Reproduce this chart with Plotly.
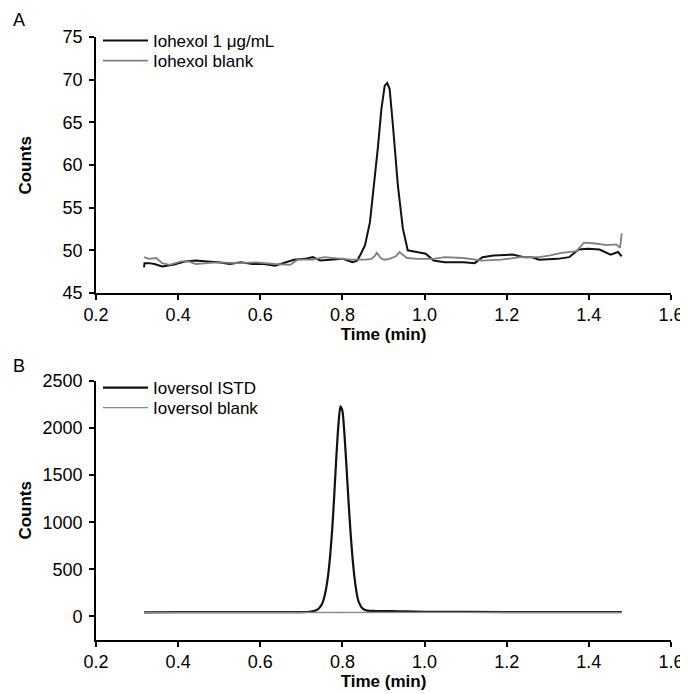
import plotly.graph_objects as go
from plotly.subplots import make_subplots

# ---- Panel A: Iohexol ----
iohexol_t = [0.317, 0.318, 0.329, 0.342, 0.361, 0.388, 0.416, 0.443, 0.471, 0.498, 0.526, 0.553,
             0.581, 0.609, 0.636, 0.654, 0.682, 0.709, 0.728, 0.746, 0.774, 0.801, 0.824, 0.836,
             0.845, 0.855, 0.867, 0.875, 0.886, 0.895, 0.903, 0.909, 0.915, 0.923, 0.935, 0.947,
             0.959, 0.971, 0.985, 1.003, 1.022, 1.049, 1.095, 1.122, 1.141, 1.168, 1.214, 1.242,
             1.260, 1.279, 1.324, 1.352, 1.375, 1.398, 1.426, 1.453, 1.471, 1.480]
iohexol_1ug = [48.0, 48.5, 48.5, 48.4, 48.1, 48.3, 48.7, 48.8, 48.7, 48.6, 48.4, 48.6,
               48.4, 48.4, 48.2, 48.5, 48.9, 49.0, 49.2, 48.8, 48.9, 49.0, 48.6, 48.8,
               49.6, 50.6, 53.3, 56.8, 61.9, 66.6, 69.3, 69.6, 68.9, 64.6, 57.6, 52.6,
               50.0, 49.9, 49.8, 49.6, 48.8, 48.6, 48.6, 48.5, 49.2, 49.4, 49.5, 49.2,
               49.2, 48.9, 49.0, 49.2, 50.1, 50.2, 50.1, 49.5, 49.8, 49.3]

blank_a_t = [0.317, 0.329, 0.347, 0.361, 0.379, 0.407, 0.425, 0.443, 0.471, 0.498, 0.544, 0.590,
             0.636, 0.673, 0.691, 0.728, 0.755, 0.783, 0.820, 0.857, 0.870, 0.878, 0.884, 0.893,
             0.902, 0.915, 0.930, 0.939, 0.957, 0.985, 1.022, 1.049, 1.095, 1.141, 1.168, 1.187,
             1.233, 1.279, 1.306, 1.333, 1.370, 1.388, 1.416, 1.444, 1.467, 1.476, 1.480]
iohexol_blank = [49.2, 49.0, 49.1, 48.5, 48.3, 48.7, 48.7, 48.4, 48.5, 48.6, 48.5, 48.6,
                 48.4, 48.3, 48.9, 48.9, 49.2, 49.1, 48.9, 48.9, 49.0, 49.3, 49.7, 49.1,
                 48.9, 49.0, 49.3, 49.8, 49.1, 49.0, 49.0, 49.2, 49.1, 48.8, 48.9, 48.9,
                 49.2, 49.2, 49.4, 49.7, 49.9, 50.9, 50.8, 50.6, 50.7, 50.3, 52.0]

# ---- Panel B: Ioversol ----
istd_t = [0.317, 0.40, 0.50, 0.60, 0.70, 0.72, 0.73, 0.74, 0.75, 0.755, 0.76, 0.765, 0.77,
          0.775, 0.78, 0.785, 0.79, 0.795, 0.80, 0.805, 0.81, 0.815, 0.82, 0.825, 0.83,
          0.835, 0.84, 0.85, 0.86, 0.88, 0.92, 0.95, 1.00, 1.10, 1.30, 1.48]
ioversol_istd = [44, 45, 46, 46, 47, 50, 56, 75, 130, 190, 290, 430, 640,
                 920, 1280, 1680, 2020, 2230, 2180, 1930, 1580, 1210, 880, 600, 390,
                 240, 150, 80, 62, 58, 56, 54, 50, 48, 46, 45]

blank_b_t = [0.317, 0.50, 0.70, 0.90, 1.10, 1.30, 1.48]
ioversol_blank = [42, 43, 43, 42, 43, 43, 43]

x_ticks = [0.2, 0.4, 0.6, 0.8, 1.0, 1.2, 1.4, 1.6]
x_tick_labels = ["0.2", "0.4", "0.6", "0.8", "1.0", "1.2", "1.4", "1.6"]

FONT = "Liberation Sans, Arial, sans-serif"
W, H = 688, 694
ML, MR, MT, MB = 88, 12, 29, 62
ph = H - MT - MB
pw = W - ML - MR

fig = make_subplots(rows=2, cols=1)

fig.add_trace(go.Scatter(x=iohexol_t, y=iohexol_1ug, mode="lines", name="Iohexol 1 μg/mL",
                         line=dict(color="#111111", width=2), legend="legend"), row=1, col=1)
fig.add_trace(go.Scatter(x=blank_a_t, y=iohexol_blank, mode="lines", name="Iohexol blank",
                         line=dict(color="#808080", width=1.8), legend="legend2"), row=1, col=1)
fig.add_trace(go.Scatter(x=istd_t, y=ioversol_istd, mode="lines", name="Ioversol ISTD",
                         line=dict(color="#111111", width=2.2, shape="spline", smoothing=0.6),
                         legend="legend3"), row=2, col=1)
fig.add_trace(go.Scatter(x=blank_b_t, y=ioversol_blank, mode="lines", name="Ioversol blank",
                         line=dict(color="#8a8a8a", width=1.3), legend="legend4"), row=2, col=1)

def ydom(top_px, bot_px):
    return [(H - MB - bot_px) / ph, (H - MB - top_px) / ph]

def py(ypx):
    return (H - MB - ypx) / ph

def px(xpx):
    return (xpx - ML) / pw

axis_common = dict(showline=True, linecolor="black", linewidth=1.6, ticks="outside",
                   ticklen=5, tickwidth=1.6, tickcolor="black", showgrid=False, zeroline=False,
                   tickfont=dict(family=FONT, size=18, color="black"))

fig.update_xaxes(range=[0.2, 1.6], tickvals=x_ticks, ticktext=x_tick_labels,
                 ticklabeloverflow="allow",
                 title=dict(text="<b>Time (min)</b>", font=dict(family=FONT, size=17, color="black"),
                            standoff=3),
                 **axis_common)
fig.update_yaxes(ticklabelstandoff=3, **axis_common)
fig.update_yaxes(range=[45, 75], dtick=5, domain=ydom(29, 285), row=1, col=1)
fig.update_yaxes(range=[-250, 2500], tickvals=[0, 500, 1000, 1500, 2000, 2500],
                 domain=ydom(373, 632), row=2, col=1)

legend_common = dict(xref="paper", yref="paper", xanchor="left", yanchor="middle",
                     bgcolor="rgba(0,0,0,0)", font=dict(family=FONT, size=17, color="black"),
                     tracegroupgap=0, itemwidth=45, borderwidth=0)
fig.update_layout(
    width=W, height=H, plot_bgcolor="white", paper_bgcolor="white",
    margin=dict(l=ML, r=MR, t=MT, b=MB),
    showlegend=True,
    legend=dict(x=px(90), y=py(33), **legend_common),
    legend2=dict(x=px(90), y=py(53), **legend_common),
    legend3=dict(x=px(90), y=py(380), **legend_common),
    legend4=dict(x=px(90), y=py(400), **legend_common),
    font=dict(family=FONT, color="black"),
)

# Panel letters and y titles
for label, ypx in (("A", 12), ("B", 358)):
    fig.add_annotation(text=label, xref="paper", yref="paper", x=px(9),
                       y=py(ypx), showarrow=False, xanchor="center", yanchor="middle",
                       font=dict(family=FONT, size=18, color="black"))
for ypx in (157, 502):
    fig.add_annotation(text="<b>Counts</b>", xref="paper", yref="paper",
                       x=px(15), y=py(ypx), textangle=-90,
                       showarrow=False, xanchor="center", yanchor="middle",
                       font=dict(family=FONT, size=17, color="black"))

fig.write_html("out.html")
